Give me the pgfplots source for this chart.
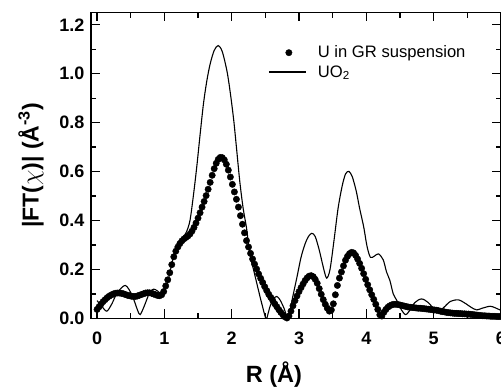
\documentclass[border=0pt]{standalone}
\usepackage{pgfplots}
\pgfplotsset{compat=1.18}
\usepackage{fontspec}
\setmainfont{Liberation Sans}
\pgfplotsset{
  dotlegend/.style={legend image code/.code={\path[draw=none,fill=none] (0pt,0pt) -- (47pt,0pt); \draw[##1] plot coordinates {(20pt,0pt)};}},
  linelegend/.style={legend image code/.code={\path[draw=none,fill=none] (0pt,0pt) -- (47pt,0pt); \draw[##1] (0pt,0pt) -- (37pt,0pt);}},
}
\begin{document}
\begin{tikzpicture}
\begin{axis}[
  scale only axis,
  width=410pt, height=306pt,
  xmin=-0.09, xmax=6, ymin=0, ymax=1.25,
  xtick={0,1,2,3,4,5,6},
  ytick={0,0.2,0.4,0.6,0.8,1.0,1.2},
  minor x tick num=1, minor y tick num=1,
  tick align=inside,
  major tick length=9pt, minor tick length=5.5pt,
  axis line style={line width=1.6pt},
  every tick/.style={line width=1.3pt, black},
  /pgf/number format/assume math mode=true,
  yticklabel style={/pgf/number format/.cd, fixed, fixed zerofill, precision=1, /tikz/.cd, font=\bfseries\fontsize{18}{22}\selectfont, xshift=-3pt},
  xticklabel style={font=\bfseries\fontsize{18}{22}\selectfont, yshift=-10pt},
  xlabel={\textbf{R (Å)}},
  ylabel={\textbf{|FT($\chi$)| (Å\textsuperscript{-3})}},
  every axis x label/.style={at={(axis description cs:0.446,-0.183)}, anchor=center, font=\fontsize{23.5}{28}\selectfont},
  every axis y label/.style={at={(axis description cs:-0.146,0.5)}, rotate=90, anchor=center, font=\fontsize{23}{27}\selectfont},
  legend style={at={(axis description cs:0.432,0.898)}, anchor=north west, draw=none, fill=none, font=\fontsize{16.6}{20}\selectfont, row sep=2pt, inner sep=0pt},
  legend cell align=left,
]
\addplot[only marks, mark=*, mark size=3.2pt, black, dotlegend]
coordinates {
(0.00,0.037)(0.03,0.048)(0.06,0.059)(0.09,0.069)(0.12,0.077)(0.15,0.085)(0.18,0.091)(0.21,0.096)(0.24,0.100)(0.27,0.103)
(0.30,0.104)(0.33,0.104)(0.36,0.103)(0.39,0.101)(0.42,0.098)(0.45,0.095)(0.48,0.093)(0.51,0.091)(0.54,0.090)(0.57,0.090)
(0.60,0.092)(0.63,0.095)(0.66,0.098)(0.69,0.101)(0.72,0.104)(0.75,0.105)(0.78,0.105)(0.81,0.103)(0.84,0.100)(0.87,0.097)
(0.90,0.094)(0.93,0.093)(0.96,0.097)(0.99,0.110)(1.02,0.133)(1.05,0.158)(1.08,0.187)(1.11,0.220)(1.14,0.252)(1.17,0.275)
(1.20,0.292)(1.23,0.306)(1.26,0.317)(1.29,0.325)(1.32,0.331)(1.35,0.337)(1.38,0.345)(1.41,0.357)(1.44,0.372)(1.47,0.390)
(1.50,0.410)(1.53,0.432)(1.56,0.455)(1.59,0.478)(1.62,0.502)(1.65,0.528)(1.68,0.556)(1.71,0.585)(1.74,0.612)(1.77,0.634)
(1.80,0.650)(1.83,0.658)(1.86,0.657)(1.89,0.648)(1.92,0.630)(1.95,0.606)(1.98,0.578)(2.01,0.548)(2.04,0.517)(2.07,0.487)
(2.10,0.455)(2.13,0.420)(2.16,0.385)(2.19,0.350)(2.22,0.318)(2.25,0.292)(2.28,0.266)(2.31,0.243)(2.34,0.222)(2.37,0.202)
(2.40,0.182)(2.43,0.164)(2.46,0.147)(2.49,0.130)(2.52,0.114)(2.55,0.099)(2.58,0.086)(2.61,0.073)(2.64,0.060)(2.67,0.048)
(2.70,0.036)(2.73,0.025)(2.76,0.015)(2.79,0.007)(2.82,0.002)(2.85,0.010)(2.88,0.030)(2.91,0.052)(2.94,0.073)(2.97,0.092)
(3.00,0.110)(3.03,0.126)(3.06,0.141)(3.09,0.155)(3.12,0.166)(3.15,0.173)(3.18,0.175)(3.21,0.171)(3.24,0.160)(3.27,0.144)
(3.30,0.122)(3.33,0.099)(3.36,0.077)(3.39,0.058)(3.42,0.042)(3.45,0.030)(3.48,0.035)(3.51,0.060)(3.54,0.097)(3.57,0.135)
(3.60,0.165)(3.63,0.190)(3.66,0.215)(3.69,0.238)(3.72,0.254)(3.75,0.265)(3.78,0.270)(3.81,0.268)(3.84,0.258)(3.87,0.243)
(3.90,0.225)(3.93,0.205)(3.96,0.183)(3.99,0.160)(4.02,0.138)(4.05,0.117)(4.08,0.097)(4.11,0.078)(4.14,0.058)(4.17,0.037)
(4.20,0.015)(4.23,0.010)(4.26,0.025)(4.29,0.037)(4.32,0.046)(4.35,0.052)(4.38,0.056)(4.41,0.058)(4.44,0.058)(4.47,0.057)
(4.50,0.055)(4.53,0.053)(4.56,0.051)(4.59,0.049)(4.62,0.047)(4.65,0.046)(4.68,0.045)(4.71,0.044)(4.74,0.043)(4.77,0.042)
(4.80,0.042)(4.83,0.041)(4.86,0.040)(4.89,0.039)(4.92,0.038)(4.95,0.037)(4.98,0.036)(5.01,0.035)(5.04,0.034)(5.07,0.032)
(5.10,0.030)(5.13,0.028)(5.16,0.027)(5.19,0.025)(5.22,0.024)(5.25,0.023)(5.28,0.022)(5.31,0.021)(5.34,0.021)(5.37,0.020)
(5.40,0.020)(5.43,0.019)(5.46,0.019)(5.49,0.018)(5.52,0.018)(5.55,0.017)(5.58,0.016)(5.61,0.015)(5.64,0.014)(5.67,0.013)
(5.70,0.012)(5.73,0.011)(5.76,0.011)(5.79,0.010)(5.82,0.010)(5.85,0.009)(5.88,0.009)(5.91,0.009)(5.94,0.008)(5.97,0.008)
(6.00,0.008)
};
\addlegendentry{U in GR suspension}
\addplot[black, line width=1.1pt, smooth, tension=0.5, no marks, linelegend]
coordinates {
(0.00,0.073)(0.07,0.050)(0.145,0.030)(0.22,0.060)(0.30,0.105)(0.42,0.135)(0.52,0.095)(0.60,0.035)(0.64,0.016)(0.70,0.050)
(0.78,0.105)(0.84,0.120)(0.90,0.112)(0.95,0.102)(1.00,0.115)(1.05,0.150)(1.10,0.210)(1.16,0.280)(1.22,0.315)(1.28,0.332)
(1.33,0.355)(1.38,0.400)(1.43,0.500)(1.48,0.617)(1.53,0.750)(1.58,0.876)(1.63,0.970)(1.68,1.040)(1.74,1.095)(1.80,1.115)
(1.86,1.090)(1.93,1.010)(1.98,0.920)(2.03,0.810)(2.07,0.700)(2.12,0.560)(2.17,0.450)(2.22,0.370)(2.27,0.264)(2.35,0.170)
(2.42,0.090)(2.50,0.005)(2.52,0.000)(2.57,0.050)(2.62,0.080)(2.67,0.090)(2.72,0.075)(2.78,0.040)(2.84,0.000)(2.90,0.080)
(2.97,0.170)(3.03,0.250)(3.09,0.305)(3.14,0.335)(3.19,0.348)(3.24,0.335)(3.30,0.280)(3.36,0.210)(3.41,0.165)(3.46,0.200)
(3.52,0.320)(3.58,0.450)(3.64,0.540)(3.69,0.590)(3.74,0.601)(3.79,0.580)(3.85,0.520)(3.90,0.450)(3.96,0.375)(4.01,0.295)
(4.06,0.250)(4.12,0.255)(4.18,0.264)(4.25,0.240)(4.30,0.190)(4.35,0.155)(4.40,0.100)(4.45,0.075)(4.50,0.045)(4.58,0.016)
(4.65,0.035)(4.72,0.065)(4.82,0.080)(4.92,0.065)(5.00,0.040)(5.07,0.026)(5.15,0.045)(5.25,0.070)(5.37,0.076)(5.48,0.060)
(5.56,0.045)(5.64,0.035)(5.72,0.042)(5.84,0.050)(5.92,0.043)(6.00,0.033)
};
\addlegendentry{UO\textsubscript{2}}
\end{axis}
\pgfresetboundingbox
\path[use as bounding box] ([xshift=-91pt,yshift=-68.3pt]current axis.south west) rectangle ([yshift=12.5pt]current axis.north east);
\end{tikzpicture}
\end{document}
